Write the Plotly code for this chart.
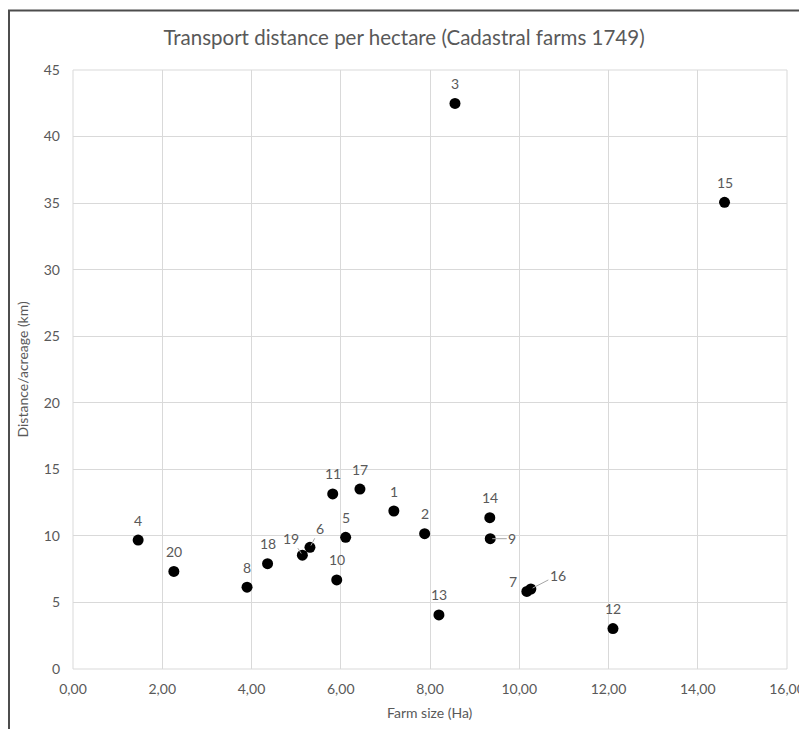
import plotly.graph_objects as go

farm_ids = ["1", "2", "3", "4", "5", "6", "7", "8", "9", "10",
            "11", "12", "13", "14", "15", "16", "17", "18", "19", "20"]
farm_size_ha = [7.19, 7.88, 8.56, 1.46, 6.11, 5.31, 10.17, 3.90, 9.35, 5.91,
                5.82, 12.10, 8.20, 9.34, 14.60, 10.26, 6.43, 4.36, 5.14, 2.26]
distance_per_acre = [11.87, 10.17, 42.49, 9.69, 9.89, 9.14, 5.83, 6.15, 9.79, 6.69,
                     13.15, 3.04, 4.06, 11.37, 35.06, 6.01, 13.52, 7.91, 8.55, 7.33]

x_ticks = [0, 2, 4, 6, 8, 10, 12, 14, 16]
y_ticks = [0, 5, 10, 15, 20, 25, 30, 35, 40, 45]

GRAY = "#595959"
FONT = "Lato"
LBL = 14

fig = go.Figure()
fig.add_trace(go.Scatter(
    x=farm_size_ha, y=distance_per_acre, mode="markers",
    marker=dict(color="black", size=11),
    hoverinfo="skip", showlegend=False,
))

# label offsets (pixels): (dx, dy, leader line)
offsets = {
    "6": (10, -19, True),
    "19": (-11, -17, True),
    "9": (22, 0, True),
    "7": (-14, -10, False),
    "16": (27, -14, True),
}
for fid, xv, yv in zip(farm_ids, farm_size_ha, distance_per_acre):
    if fid in offsets:
        dx, dy, leader = offsets[fid]
        if leader:
            fig.add_annotation(x=xv, y=yv, text=fid, showarrow=True, arrowhead=0,
                               arrowwidth=1, arrowcolor="#a6a6a6", ax=dx, ay=dy,
                               standoff=2, font=dict(size=LBL, color=GRAY, family=FONT))
        else:
            fig.add_annotation(x=xv, y=yv, text=fid, showarrow=False,
                               xshift=dx, yshift=-dy,
                               font=dict(size=LBL, color=GRAY, family=FONT))
    else:
        fig.add_annotation(x=xv, y=yv, text=fid, showarrow=False, yshift=20,
                           font=dict(size=LBL, color=GRAY, family=FONT))

# figure-space plot area (page is offset by 8px body margin)
L, R, T, B = 65, 779, 62, 661
FW, FH = 799, 721
W, H = R - L, B - T
def px(xp):
    return (xp - L) / W
def py(yp):
    return (B - yp) / H
# outer frame (left and top edges)
fig.add_shape(type="path", xref="paper", yref="paper",
              path=f"M {px(1)} {py(740)} L {px(1)} {py(2.5)} L {px(820)} {py(2.5)}",
              line=dict(color="#4d4d4d", width=2))

# axis titles as annotations (fixed pixel positions)
fig.add_annotation(text="Farm size (Ha)", xref="paper", yref="paper",
                   x=0.5, y=py(704), showarrow=False, yanchor="middle",
                   font=dict(size=14, color=GRAY, family=FONT))
fig.add_annotation(text="Distance/acreage (km)", xref="paper", yref="paper",
                   x=px(14), y=0.5, showarrow=False, xanchor="center", textangle=-90,
                   font=dict(size=14, color=GRAY, family=FONT))

fig.update_layout(
    width=FW, height=FH,
    margin=dict(l=L, r=FW - R, t=T, b=FH - B, autoexpand=False),
    paper_bgcolor="white", plot_bgcolor="white",
    separators=",.",
    font=dict(family=FONT, color=GRAY, size=14),
    title=dict(text="Transport distance per hectare (Cadastral farms 1749)",
               x=(396 / FW), xanchor="center", y=1 - 30 / FH, yanchor="middle",
               font=dict(size=20.5, color=GRAY, family=FONT)),
    xaxis=dict(range=[0, 16], tickvals=x_ticks, tickformat=".2f",
               showgrid=True, gridcolor="#d9d9d9", gridwidth=1,
               zeroline=False, showline=False, ticks="",
               ticklabelstandoff=10, ticklabeloverflow="allow", automargin=False,
               tickfont=dict(size=14, color=GRAY),
               fixedrange=True),
    yaxis=dict(range=[0, 45], tickvals=y_ticks,
               showgrid=True, gridcolor="#d9d9d9", gridwidth=1,
               zeroline=False, showline=False, ticks="",
               ticklabelstandoff=12, automargin=False,
               tickfont=dict(size=14, color=GRAY),
               fixedrange=True),
)
fig.add_shape(type="rect", xref="paper", yref="paper", x0=0, y0=0, x1=1, y1=1,
              line=dict(color="#d9d9d9", width=1), layer="below")

fig.write_html("out.html")
